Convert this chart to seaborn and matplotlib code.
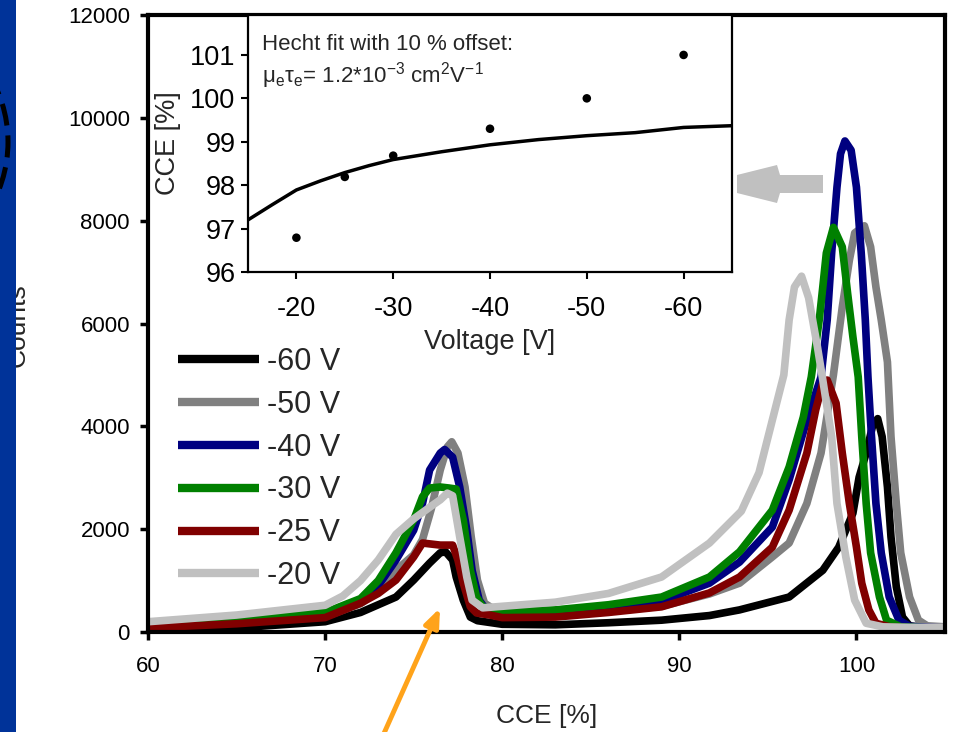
import numpy as np
import pandas as pd
import matplotlib
matplotlib.use("Agg")
import matplotlib.pyplot as plt
import seaborn as sns
from matplotlib.lines import Line2D
from matplotlib.patches import Rectangle, Polygon, Arc
from matplotlib.transforms import IdentityTransform

# ---------------- data ----------------
bias_labels = ["-60 V", "-50 V", "-40 V", "-30 V", "-25 V", "-20 V"]
bias_colors = ["#000000", "#808080", "#000080", "#008000", "#800000", "#C0C0C0"]

cce_m60 = [60, 65, 70, 72, 74, 75, 75.9, 76.5, 76.8, 77.2, 77.4, 77.8, 78.2, 78.6, 80,
           83, 86, 89, 91.7, 93.4, 96.2, 98.1, 99.0, 99.8, 100.15, 100.55, 100.9, 101.2,
           101.45, 101.75, 101.95, 102.25, 102.6, 103, 104, 105]
cnt_m60 = [30, 80, 200, 380, 680, 1010, 1340, 1540, 1560, 1400, 1070, 620, 290, 220, 150,
           140, 180, 230, 320, 430, 680, 1200, 1650, 2310, 3010, 3480, 3990, 4150,
           3800, 2820, 1850, 880, 290, 120, 80, 70]

cce_m50 = [60, 65, 70, 72, 73, 74, 75, 75.5, 76, 76.5, 76.9, 77.15, 77.5, 77.9, 78.25, 78.6,
           79, 79.5, 80, 83, 86, 89, 91.7, 93.4, 95.25, 96.2, 97.2, 98.0, 98.3, 98.7, 99.2,
           99.6, 99.9, 100.45, 100.8, 101.1, 101.4, 101.75, 101.95, 102.25, 102.5, 103.0,
           103.5, 104, 105]
cnt_m50 = [120, 200, 300, 550, 800, 1200, 1500, 1800, 2400, 3150, 3600, 3700, 3480, 2820, 1850,
           1010, 560, 450, 330, 320, 400, 500, 740, 950, 1460, 1730, 2500, 3480, 4120, 5000,
           6320, 7230, 7760, 7900, 7490, 6710, 6070, 5250, 3800, 2500, 1540, 680, 230, 120, 100]

cce_m40 = [60, 65, 70, 72, 73, 74, 75, 75.5, 75.9, 76.5, 76.75, 77.2, 77.6, 78.0, 78.3, 78.7,
           79.1, 80, 83, 86, 89, 91.7, 93.4, 95.25, 96.2, 97.2, 98.0, 98.35, 98.6, 98.9, 99.1,
           99.35, 99.7, 100.0, 100.27, 100.5, 100.65, 100.85, 101.1, 101.4, 101.85, 102.4,
           103, 104, 105]
cnt_m40 = [130, 230, 340, 600, 900, 1400, 1980, 2500, 3150, 3480, 3550, 3400, 2820, 1980, 1200,
           620, 430, 360, 380, 470, 600, 950, 1360, 2040, 2960, 4120, 4960, 6070, 7370, 8650,
           9300, 9550, 9370, 8650, 7370, 6070, 4960, 3800, 2500, 1540, 680, 230, 110, 90, 80]

cce_m30 = [60, 65, 70, 72, 73, 74, 75, 75.5, 75.9, 76.5, 77.0, 77.4, 77.8, 78.2, 78.55, 78.9,
           80, 83, 86, 89, 91.7, 93.4, 95.25, 96.2, 97.0, 97.45, 97.9, 98.1, 98.3, 98.7, 99.2,
           99.5, 99.8, 100.1, 100.3, 100.55, 100.8, 101.3, 101.7, 102.5, 104, 105]
cnt_m30 = [150, 260, 380, 650, 1000, 1540, 2180, 2630, 2800, 2820, 2800, 2780, 2180, 1200, 680,
           490, 400, 430, 530, 680, 1070, 1560, 2370, 3210, 4180, 4960, 6070, 6710, 7370, 7870,
           7490, 6590, 5740, 4960, 3800, 2500, 1540, 680, 230, 100, 80, 80]

cce_m25 = [60, 65, 70, 72, 73, 74, 75, 75.5, 76.5, 77.2, 77.5, 77.8, 78.2, 78.55, 79.3, 80,
           83, 86, 89, 91.7, 93.4, 95.25, 96.2, 97.2, 97.7, 98.1, 98.35, 98.85, 99.2, 99.6,
           100.0, 100.3, 100.7, 101.1, 102, 104, 105]
cnt_m25 = [80, 160, 280, 560, 750, 1010, 1460, 1730, 1690, 1690, 1400, 950, 490, 370, 330, 280,
           290, 380, 490, 760, 1070, 1650, 2370, 3480, 4320, 4840, 4900, 4450, 3480, 2500,
           1650, 950, 430, 170, 90, 70, 70]

cce_m20 = [60, 65, 70, 71, 72, 73, 74, 75, 76, 76.5, 76.9, 77.2, 77.6, 78.0, 78.3, 78.9, 80,
           83, 86, 89, 91.7, 93.5, 94.5, 95.25, 95.9, 96.2, 96.5, 96.9, 97.3, 97.8, 98.1, 98.6,
           98.9, 99.4, 99.9, 100.55, 101.5, 103, 105]
cnt_m20 = [200, 330, 520, 700, 1000, 1400, 1900, 2200, 2450, 2570, 2700, 2650, 1850, 1070, 620,
           470, 500, 580, 750, 1070, 1730, 2350, 3100, 4120, 5000, 6070, 6710, 6920, 6500, 5540,
           4900, 3800, 2500, 1460, 620, 170, 100, 90, 90]

series_x = [cce_m60, cce_m50, cce_m40, cce_m30, cce_m25, cce_m20]
series_y = [cnt_m60, cnt_m50, cnt_m40, cnt_m30, cnt_m25, cnt_m20]

fit_voltage = [-15, -17.5, -20, -22.5, -25, -27.5, -30, -32.5, -35, -40, -45, -50, -55, -60, -65]
fit_cce = [97.2, 97.55, 97.89, 98.1, 98.29, 98.45, 98.59, 98.68, 98.77, 98.93, 99.05,
           99.14, 99.21, 99.33, 99.37]
meas_voltage = [-20, -25, -30, -40, -50, -60]
meas_cce = [96.79, 98.19, 98.68, 99.30, 100.0, 101.0]

main_xticks = [60, 70, 80, 90, 100]
main_yticks = [0, 2000, 4000, 6000, 8000, 10000, 12000]
inset_xticks = [-20, -30, -40, -50, -60]
inset_yticks = [96, 97, 98, 99, 100, 101]

# ---------------- style ----------------
sns.set_style("ticks")
plt.rcParams['font.family'] = ['Liberation Sans', 'DejaVu Sans']
plt.rcParams['axes.unicode_minus'] = False
plt.rcParams['mathtext.fontset'] = 'custom'
plt.rcParams['mathtext.rm'] = 'Liberation Sans'
plt.rcParams['mathtext.default'] = 'regular'

frames = []
for lab, xs, ys in zip(bias_labels, series_x, series_y):
    frames.append(pd.DataFrame({"cce": xs, "counts": ys, "bias": lab}))
df = pd.concat(frames, ignore_index=True)
palette = dict(zip(bias_labels, bias_colors))

W, H = 961, 732
fig = plt.figure(figsize=(W / 100, H / 100), dpi=100)
fig.patch.set_facecolor("white")

ax = fig.add_axes([148 / W, 100 / H, 797 / W, 617 / H])
sns.lineplot(data=df, x="cce", y="counts", hue="bias", hue_order=bias_labels,
             palette=palette, estimator=None, sort=False, linewidth=5.5,
             legend=False, ax=ax)
ax.set_xlim(60, 105)
ax.set_ylim(0, 12000)
ax.set_xticks(main_xticks)
ax.set_xticklabels([str(v) for v in main_xticks])
ax.set_yticks(main_yticks)
ax.set_yticklabels([str(v) for v in main_yticks])
for s in ax.spines.values():
    s.set_linewidth(3)
    s.set_color("black")
    s.set_visible(True)
ax.tick_params(axis="both", direction="out", length=6, width=2.5, labelsize=16,
               colors="black", bottom=True, left=True, top=False, right=False)
ax.tick_params(axis="y", pad=7)
ax.tick_params(axis="x", pad=11)
ax.set_xlabel("CCE [%]", fontsize=19, labelpad=20)
ax.set_ylabel("")

handles = [Line2D([0], [0], color=c, lw=6, solid_capstyle="butt") for c in bias_colors]
ax.legend(handles, bias_labels, loc="upper left", bbox_to_anchor=(0.0376, 0.462),
          frameon=False, fontsize=22, handlelength=2.65, handletextpad=0.25,
          labelspacing=0.42, borderaxespad=0, borderpad=0)

# inset
ax_in = fig.add_axes([248 / W, (H - 272) / H, 484 / W, 257 / H])
ax_in.set_facecolor("white")
sns.lineplot(x=fit_voltage, y=fit_cce, color="black", linewidth=2.5, ax=ax_in)
sns.scatterplot(x=meas_voltage, y=meas_cce, color="black", s=38, edgecolor="none",
                ax=ax_in, zorder=3)
ax_in.set_xlim(-15, -65)
ax_in.set_ylim(96, 101.92)
ax_in.set_xticks(inset_xticks)
ax_in.set_xticklabels([str(v) for v in inset_xticks])
ax_in.set_yticks(inset_yticks)
ax_in.set_yticklabels([str(v) for v in inset_yticks])
for s in ax_in.spines.values():
    s.set_linewidth(1.6)
    s.set_color("black")
    s.set_visible(True)
ax_in.tick_params(axis="both", direction="out", length=5, width=1.5, labelsize=19.5,
                  colors="black", bottom=True, left=True, top=False, right=False)
ax_in.tick_params(axis="y", pad=4)
ax_in.tick_params(axis="x", pad=12)
ax_in.set_xlabel("Voltage [V]", fontsize=19.5, labelpad=5)
ax_in.set_ylabel("CCE [%]", fontsize=19.5, labelpad=6.5)
ax_in.text(0.029, 0.864, "Hecht fit with 10 % offset:", transform=ax_in.transAxes,
           fontsize=16, va="baseline", ha="left")
ax_in.text(0.029, 0.739, "μ$_e$τ$_e$= 1.2*10$^{-3}$ cm$^2$V$^{-1}$", transform=ax_in.transAxes,
           fontsize=16, va="baseline", ha="left")

# decorations
ident = IdentityTransform()
arrow_pts = [(737, 175), (777, 165), (780, 175), (823, 175), (823, 193),
             (780, 193), (777, 203), (737, 193)]
fig.add_artist(Polygon([(x, H - y) for x, y in arrow_pts], closed=True,
                       facecolor="#C0C0C0", edgecolor="none", transform=ident, zorder=5))

ax.annotate("", xy=(440, H - 608), xycoords="figure pixels",
            xytext=(381, -8), textcoords="figure pixels",
            arrowprops=dict(arrowstyle="-|>,head_length=0.55,head_width=0.22",
                            color="#FFA31A", lw=3.5, shrinkA=0, shrinkB=0,
                            mutation_scale=20),
            annotation_clip=False)

fig.text(30 / W, (H - 325) / H, "Counts", rotation=90, ha="right", va="center",
         fontsize=19, zorder=1)
fig.add_artist(Rectangle((0, 0), 16, H, transform=ident, facecolor="#003399",
                         edgecolor="none", zorder=10))
fig.add_artist(Arc((-122, H - 142), 260, 260, theta1=-35, theta2=35, transform=ident,
                   color="black", lw=3.6, linestyle=(0, (4.4, 2)), zorder=11))

fig.savefig("out.png", dpi=100)
